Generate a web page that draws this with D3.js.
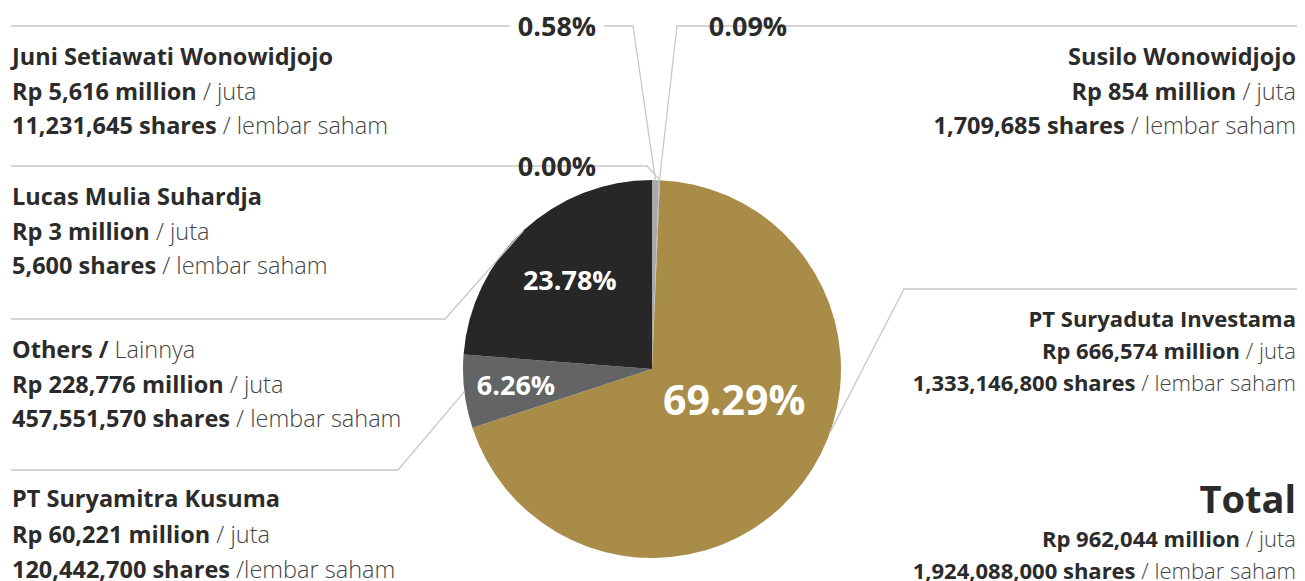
<!DOCTYPE html>
<html>
<head>
<meta charset="utf-8">
<script src="https://cdn.jsdelivr.net/npm/d3@7"></script>
<style>
  body { margin: 0; background: #fff; }
  text { font-family: "Open Sans", "Noto Sans", sans-serif; }
</style>
</head>
<body>
<div id="chart"></div>
<script>
// shareholders, in pie order (clockwise from 12 o'clock)
var holders = ["Juni Setiawati Wonowidjojo", "Susilo Wonowidjojo", "Lucas Mulia Suhardja",
               "PT Suryaduta Investama", "PT Suryamitra Kusuma", "Others /"];
var holderNotes = ["", "", "", "", "", " Lainnya"];
var valueMillion = [5616, 854, 3, 666574, 60221, 228776];
var shareCount = [11231645, 1709685, 5600, 1333146800, 120442700, 457551570];
var shareNotes = [" / lembar saham", " / lembar saham", " / lembar saham", " / lembar saham", " /lembar saham", " / lembar saham"];
var sliceColors = ["#a7a9ac", "#b9babd", "#d0d0d0", "#a98c47", "#636466", "#272727"];

var W = 1305, H = 581;
var cx = 652, cy = 369, R = 189;
var lineColor = "#c8c8c8", darkText = "#2b2b2b", lightText = "#444";

// callout layout per slice
var callouts = [
    {side: "left",  y: 26,  knee: 633, pctX: 557, block: 65,  step: 34.5, fs: 23.5},
    {side: "right", y: 26,  knee: 677, pctX: 748, block: 65,  step: 34.5, fs: 23.5},
    {side: "left",  y: 166, knee: 647, pctX: 557, block: 205, step: 34.5, fs: 23.5},
    {side: "right", y: 289, knee: 904, pctX: null, block: 327, step: 32, fs: 22, t: 0.43},
    {side: "left",  y: 470, knee: 398, pctX: null, block: 507, step: 35.5, fs: 23.5},
    {side: "left",  y: 319, knee: 445, pctX: null, block: 358, step: 34.5, fs: 23.5}
];
// inside labels: index -> [radius, fraction along slice, font size]
var inner = {3: [88, 0.435, 41], 4: [137, 0.5, 27], 5: [121, 0.5, 27]};

var total = d3.sum(valueMillion);
var totalShares = d3.sum(shareCount);
var fmtPct = d3.format(".2%");
var fmtNum = d3.format(",");

var svg = d3.select("#chart").append("svg")
    .attr("width", W)
    .attr("height", H);

var pie = d3.pie().sort(null).value(function(d){ return d; });
var arcs = pie(valueMillion);
var arc = d3.arc().innerRadius(0).outerRadius(R);

var g = svg.append("g").attr("transform", "translate(" + cx + "," + cy + ")");
g.selectAll("path.slice")
    .data(arcs)
    .enter().append("path")
    .attr("class", "slice")
    .attr("d", arc)
    .attr("fill", function(d, i){ return sliceColors[i]; });

function polar(a, r) {
    return [cx + r * Math.sin(a), cy - r * Math.cos(a)];
}

// leader lines + outer percent labels
arcs.forEach(function(d, i) {
    var c = callouts[i];
    var t = c.t == null ? 0.5 : c.t;
    var a = d.startAngle + (d.endAngle - d.startAngle) * t;
    var end = polar(a, R);
    var pts;
    if (c.side === "left") {
        pts = [[11, c.y], [c.knee, c.y], end];
    } else {
        pts = [[1297, c.y], [c.knee, c.y], end];
    }
    svg.append("path")
        .attr("d", d3.line()(pts))
        .attr("fill", "none")
        .attr("stroke", lineColor)
        .attr("stroke-width", 1.3);

    if (c.pctX != null) {
        var lbl = svg.append("text")
            .attr("x", c.pctX)
            .attr("y", c.y)
            .attr("dy", "0.36em")
            .attr("text-anchor", "middle")
            .style("font-size", "27px")
            .style("font-weight", 700)
            .attr("fill", darkText)
            .text(fmtPct(d.value / total));
        var bb = lbl.node().getBBox();
        svg.insert("rect", "text")
            .attr("x", bb.x - 8)
            .attr("y", c.y - 4)
            .attr("width", bb.width + 16)
            .attr("height", 8)
            .attr("fill", "#fff");
    }
});

// inner percent labels
arcs.forEach(function(d, i) {
    if (!inner[i]) return;
    var a = d.startAngle + (d.endAngle - d.startAngle) * inner[i][1];
    var p = polar(a, inner[i][0]);
    svg.append("text")
        .attr("x", p[0])
        .attr("y", p[1])
        .attr("dy", "0.36em")
        .attr("text-anchor", "middle")
        .style("font-size", inner[i][2] + "px")
        .style("font-weight", 700)
        .attr("fill", "#fff")
        .text(fmtPct(d.value / total));
});

function textLine(x, y, anchor, fs, bold, light) {
    var tx = svg.append("text")
        .attr("x", x)
        .attr("y", y)
        .attr("text-anchor", anchor)
        .style("font-size", fs + "px");
    tx.append("tspan").style("font-weight", 700).attr("fill", darkText).text(bold);
    if (light) tx.append("tspan").style("font-weight", 300).attr("fill", lightText).text(light);
    return tx;
}

// description blocks
holders.forEach(function(name, i) {
    var c = callouts[i];
    var x = c.side === "left" ? 12 : 1296;
    var anchor = c.side === "left" ? "start" : "end";
    textLine(x, c.block, anchor, c.fs, name, holderNotes[i]);
    textLine(x, c.block + c.step, anchor, c.fs, "Rp " + fmtNum(valueMillion[i]) + " million", " / juta");
    textLine(x, c.block + 2 * c.step, anchor, c.fs, fmtNum(shareCount[i]) + " shares", shareNotes[i]);
});

// total block
svg.append("text")
    .attr("x", 1296)
    .attr("y", 513)
    .attr("text-anchor", "end")
    .style("font-size", "38px")
    .style("font-weight", 700)
    .attr("fill", darkText)
    .text("Total");
textLine(1296, 547, "end", 22, "Rp " + fmtNum(total) + " million", " / juta");
textLine(1296, 579, "end", 22, fmtNum(totalShares) + " shares", " / lembar saham");
</script>
</body>
</html>
